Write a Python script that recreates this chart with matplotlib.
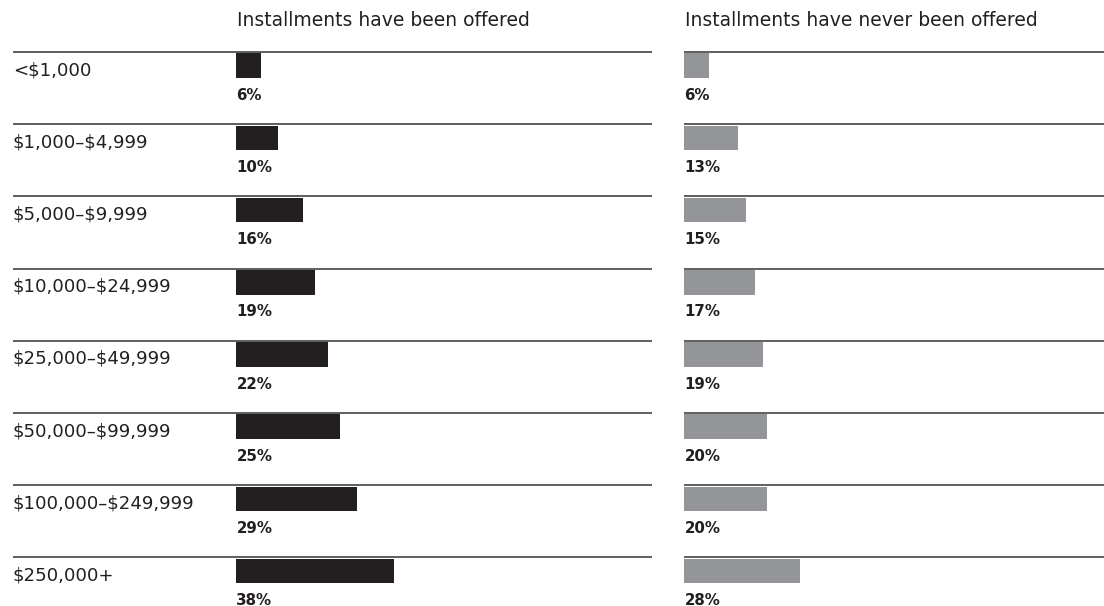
import matplotlib
matplotlib.use("Agg")
import matplotlib.pyplot as plt

categories = ["<$1,000", "$1,000–$4,999", "$5,000–$9,999", "$10,000–$24,999",
              "$25,000–$49,999", "$50,000–$99,999", "$100,000–$249,999", "$250,000+"]
offered = [6, 10, 16, 19, 22, 25, 29, 38]
never_offered = [6, 13, 15, 17, 19, 20, 20, 28]
titles = ["Installments have been offered", "Installments have never been offered"]

plt.rcParams['font.family'] = ['DejaVu Sans']
plt.rcParams['text.parse_math'] = False

W, H = 1104, 606
fig = plt.figure(figsize=(W / 100, H / 100), dpi=100)

px_per_pct = 4.16
row_h = 72.2
top_line = 52
ytop = -top_line / row_h
ybot = (H - top_line) / row_h

# left panel: line from x=13 to 652, bars start at 236
ax1 = fig.add_axes([13 / W, 0, (652 - 13) / W, 1])
ax1.set_xlim(-(236 - 13) / px_per_pct, (652 - 236) / px_per_pct)
# right panel: line from x=684 to right edge
ax2 = fig.add_axes([684 / W, 0, (W - 684) / W, 1])
ax2.set_xlim(0, (W - 684) / px_per_pct)

n = len(categories)
rows = list(range(n))
for ax, vals, col, title in [(ax1, offered, "#231f20", titles[0]),
                             (ax2, never_offered, "#939598", titles[1])]:
    ax.set_ylim(ybot, ytop)
    ax.axis("off")
    for i in rows:
        ax.axhline(i, color="#333333", lw=1.1, zorder=3)
    ax.barh([r + 0.02 + 0.17 for r in rows], vals, height=0.34, left=0,
            color=col, zorder=2, align="center")
    for r, v in zip(rows, vals):
        ax.text(0.1, r + 0.6, f"{v}%", fontsize=10.8, fontweight="bold",
                color="#231f20", va="center", ha="left")
    ax.text(0.2, -0.44, title, fontsize=13.5, color="#231f20", va="center", ha="left")

for r, c in zip(rows, categories):
    ax1.text(0, r + 0.25, c, transform=ax1.get_yaxis_transform(),
             fontsize=13.1, color="#231f20", va="center", ha="left")

fig.savefig("out.png", dpi=100)
